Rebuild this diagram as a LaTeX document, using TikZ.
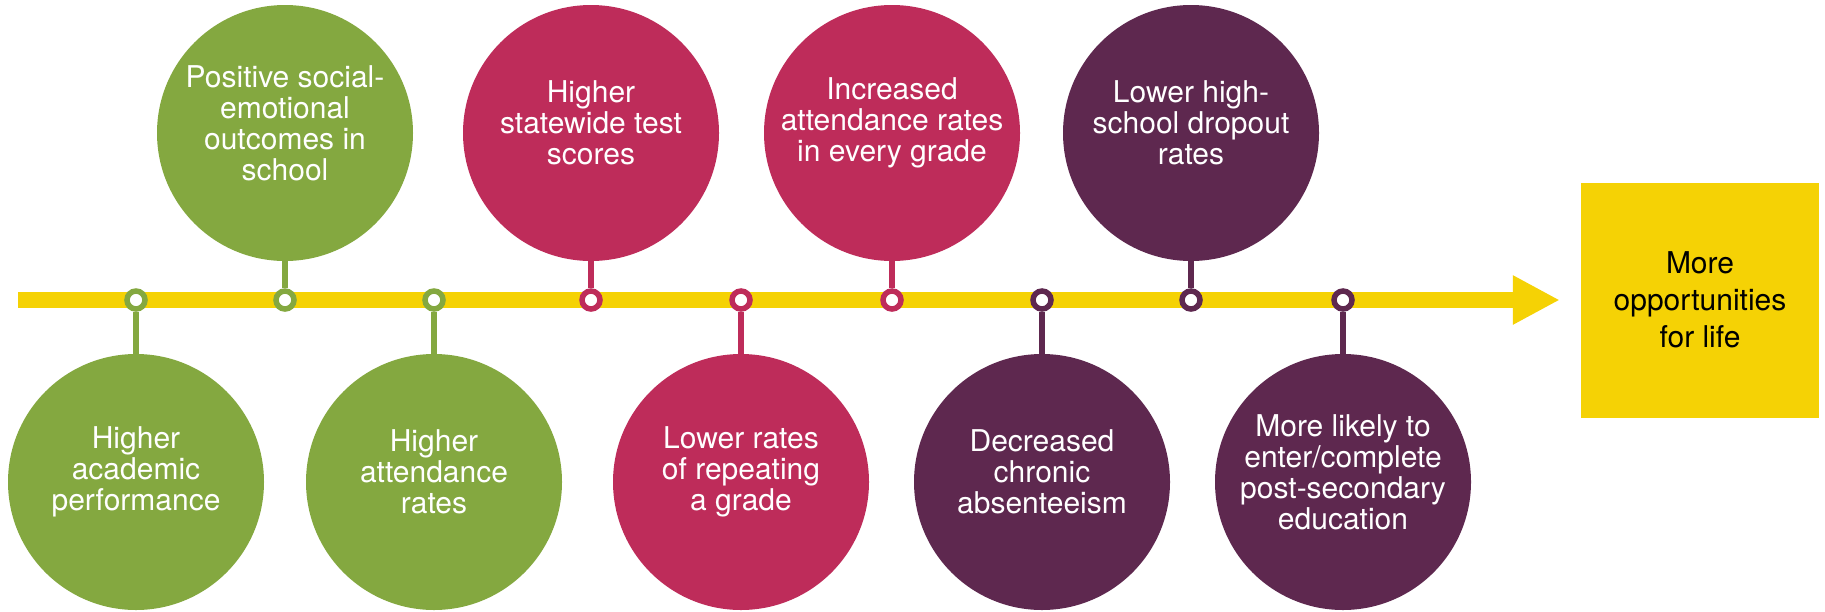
\documentclass[tikz,border=0pt]{standalone}
\usepackage{fontspec}
\setmainfont{TeX Gyre Heros}
\usetikzlibrary{arrows.meta,positioning}
\definecolor{leaf}{HTML}{84A840}
\definecolor{berry}{HTML}{BE2C5A}
\definecolor{plum}{HTML}{5E284F}
\definecolor{sun}{HTML}{F5D205}
\tikzset{
  outcome/.style   = {circle, fill=#1, minimum size=256pt, inner sep=0pt},
  caption/.style   = {text=white, align=center, font=\fontsize{30}{31}\selectfont, yshift=10pt},
  milestone/.style = {circle, draw=#1, line width=5.5pt, fill=white, minimum size=18pt, inner sep=0pt},
  stem/.style      = {draw=#1, line width=6pt},
  timeline/.style  = {draw=sun, line width=16pt, -{Triangle[width=46pt,length=47pt]}, shorten >=21pt},
  goal/.style      = {rectangle, fill=sun, minimum width=238pt, minimum height=235pt,
                      align=center, font=\fontsize{30}{37}\selectfont}
}

\begin{document}
\begin{tikzpicture}[x=1pt, y=-1pt]
  \useasboundingbox (0,0) rectangle (1825,611);

  % outcome circles
  \node[outcome=leaf]  (o1) at (136,482) [label={[caption]center:{Higher\\academic\\performance}}] {};
  \node[outcome=leaf]  (o2) at (285,133) [label={[caption]center:{Positive social-\\emotional\\outcomes in\\school}}] {};
  \node[outcome=leaf]  (o3) at (434,482) [label={[caption]center:{Higher\\attendance\\rates}}] {};
  \node[outcome=berry] (o4) at (591,133) [label={[caption]center:{Higher\\statewide test\\scores}}] {};
  \node[outcome=berry] (o5) at (741,482) [label={[caption]center:{Lower rates\\of repeating\\a grade}}] {};
  \node[outcome=berry] (o6) at (892,133) [label={[caption]center:{Increased\\attendance rates\\in every grade}}] {};
  \node[outcome=plum]  (o7) at (1042,482) [label={[caption]center:{Decreased\\chronic\\absenteeism}}] {};
  \node[outcome=plum]  (o8) at (1191,133) [label={[caption]center:{Lower high-\\school dropout\\rates}}] {};
  \node[outcome=plum]  (o9) at (1343,482) [label={[caption]center:{More likely to\\enter/complete\\post-secondary\\education}}] {};

  % goal and time line
  \node[goal] (life) at (1700,300) {More\\opportunities\\for life};
  \coordinate (start) at (18,300);
  \draw[timeline] (start) -- (life);

  % milestones on the line
  \node[milestone=leaf]  (m1) at (136,300) {};
  \node[milestone=leaf]  (m2) at (285,300) {};
  \node[milestone=leaf]  (m3) at (434,300) {};
  \node[milestone=berry] (m4) at (591,300) {};
  \node[milestone=berry] (m5) at (741,300) {};
  \node[milestone=berry] (m6) at (892,300) {};
  \node[milestone=plum]  (m7) at (1042,300) {};
  \node[milestone=plum]  (m8) at (1191,300) {};
  \node[milestone=plum]  (m9) at (1343,300) {};

  \draw[stem=leaf]  (m1) -- (o1);
  \draw[stem=leaf]  (m2) -- (o2);
  \draw[stem=leaf]  (m3) -- (o3);
  \draw[stem=berry] (m4) -- (o4);
  \draw[stem=berry] (m5) -- (o5);
  \draw[stem=berry] (m6) -- (o6);
  \draw[stem=plum]  (m7) -- (o7);
  \draw[stem=plum]  (m8) -- (o8);
  \draw[stem=plum]  (m9) -- (o9);
\end{tikzpicture}
\end{document}
